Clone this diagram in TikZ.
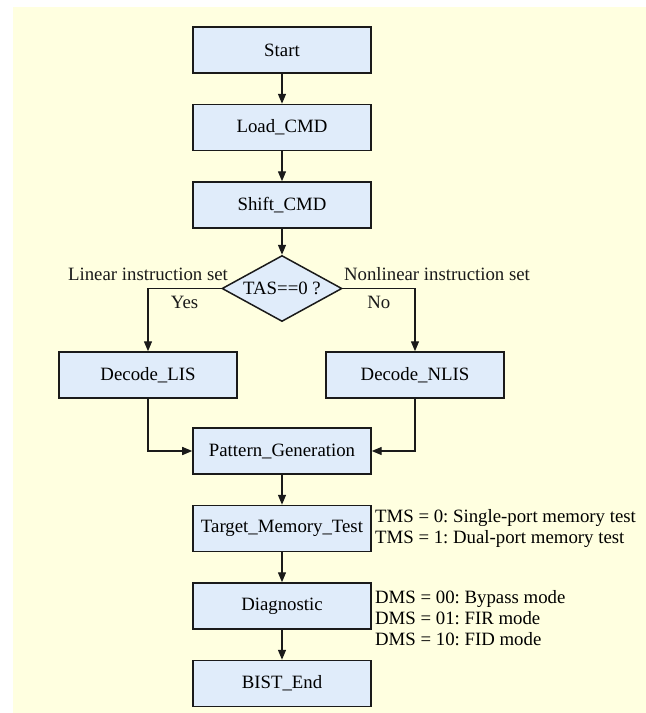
\documentclass[tikz,border=0pt]{standalone}
\usepackage{fontspec}
\setmainfont{Liberation Serif}
\usepackage{tikz}
\usetikzlibrary{
arrows.meta,
positioning,
shapes.geometric
}
\definecolor{BgYellow}{HTML}{FFFFE0}
\definecolor{BoxBlue}{HTML}{E0ECFA}
\definecolor{LineGray}{HTML}{1A1A1A}
\frenchspacing

\begin{document}
\begin{tikzpicture}[node distance=15pt,>={Triangle[length=5pt,width=4pt]},every node/.style={font=\fontsize{9.4pt}{10.5pt}\selectfont, align=center}, stage/.style={draw=LineGray, fill=BoxBlue, line width=0.75pt, minimum width=89pt, minimum height=23pt, inner sep=2pt}, decision/.style={draw=LineGray, fill=BoxBlue, line width=0.75pt, diamond, aspect=1.82, minimum width=60pt, minimum height=33pt, inner sep=0pt}, flow/.style={->, line width=0.7pt, LineGray}, note/.style={align=left, inner sep=1.5pt}]
        \useasboundingbox (-141pt,25pt) rectangle (182pt,-331.5pt);
        \fill[BgYellow] (-134.5pt,21.5pt) rectangle (182pt,-331.5pt);
        \node[stage] (start) at (0,0) {Start};
        \node[stage, below=of start] (load) {Load\_CMD};
        \node[stage, below=of load] (shift) {Shift\_CMD};
        \node[decision, below=13pt of shift] (tas) {TAS==0 ?};
        \node[stage, below=14.5pt of tas, xshift=-67pt] (lis) {Decode\_LIS};
        \node[stage, below=14.5pt of tas, xshift=66.5pt] (nlis) {Decode\_NLIS};
        \node[stage, below=52.5pt of tas] (pattern) {Pattern\_Generation};
        \node[stage, below=of pattern] (target) {Target\_Memory\_Test};
        \node[stage, below=of target] (diag) {Diagnostic};
        \node[stage, below=of diag] (bistend) {BIST\_End};
        \node[note, right=0pt of target] (tms) {TMS = 0: Single-port memory test\\TMS = 1: Dual-port memory test};
        \node[note, right=0pt of diag, yshift=-6pt] (dms) {DMS = 00: Bypass mode\\DMS = 01: FIR mode\\DMS = 10: FID mode};
        \draw[flow] (start) -- (load);
        \draw[flow] (load) -- (shift);
        \draw[flow] (shift) -- (tas);
        \draw[flow] (tas.west) -| node[pos=0.5, above] {Linear instruction set} node[pos=0.25, below] {Yes} (lis.north);
        \draw[flow] (tas.east) -| node[pos=0.5, above, xshift=11pt] {Nonlinear instruction set} node[pos=0.25, below] {No} (nlis.north);
        \draw[flow] (lis.south) |- (pattern.west);
        \draw[flow] (nlis.south) |- (pattern.east);
        \draw[flow] (pattern) -- (target);
        \draw[flow] (target) -- (diag);
        \draw[flow] (diag) -- (bistend);
    \end{tikzpicture}
\end{document}
